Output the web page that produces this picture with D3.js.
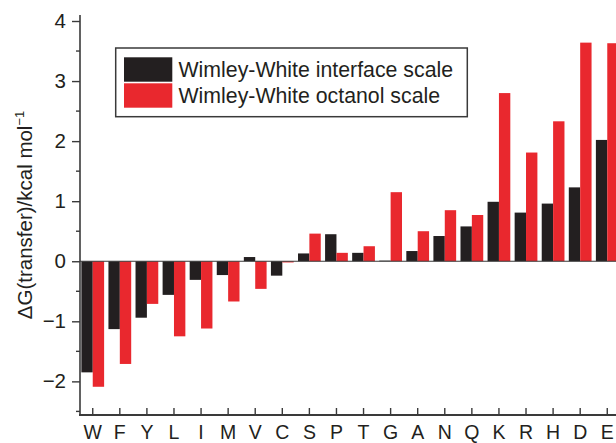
<!DOCTYPE html>
<html>
<head>
<meta charset="utf-8">
<script src="https://cdn.jsdelivr.net/npm/d3@7"></script>
<style>
  html, body { margin: 0; padding: 0; background: #fff; }
  svg { display: block; font-family: "Liberation Sans", Arial, Helvetica, sans-serif; }
</style>
</head>
<body>
<svg id="chart" width="616" height="443"></svg>
<script>
// Amino acids, ordered from most to least favourable transfer
const residues = ["W","F","Y","L","I","M","V","C","S","P","T","G","A","N","Q","K","R","H","D","E"];
// Free energy of transfer (kcal/mol), interface scale
const interfaceScale = [-1.85,-1.13,-0.94,-0.56,-0.31,-0.23,0.07,-0.24,0.13,0.45,0.14,0.01,0.17,0.42,0.58,0.99,0.81,0.96,1.23,2.02];
// Free energy of transfer (kcal/mol), octanol scale
const octanolScale = [-2.09,-1.71,-0.71,-1.25,-1.12,-0.67,-0.46,-0.02,0.46,0.14,0.25,1.15,0.50,0.85,0.77,2.80,1.81,2.33,3.64,3.63];
const seriesNames = ["Wimley-White interface scale", "Wimley-White octanol scale"];
const yMajorTicks = [-2,-1,0,1,2,3,4];
const yMinorTicks = [-2.5,-1.5,-0.5,0.5,1.5,2.5,3.5];

const colors = ["#231f20", "#e9282e"];
const svg = d3.select("#chart");

const x = d3.scaleBand().domain(residues).range([79.2, 620.8]).padding(0);
const y = d3.scaleLinear().domain([-2.56, 4.1]).range([415, 15]);
const barW = x.bandwidth() * 0.42;
const cx = d => x(d) + x.bandwidth() / 2;

const axisColor = "#3a3a3a";

// bars
const series = [interfaceScale, octanolScale];
series.forEach((vals, s) => {
  svg.append("g").selectAll("rect")
    .data(residues.map((r, i) => ({ r, v: vals[i] })))
    .join("rect")
    .attr("x", d => s === 0 ? cx(d.r) - barW : cx(d.r))
    .attr("width", barW)
    .attr("y", d => y(Math.max(0, d.v)))
    .attr("height", d => Math.abs(y(d.v) - y(0)))
    .attr("fill", colors[s]);
});

// zero line
svg.append("line")
  .attr("x1", 80).attr("x2", 616)
  .attr("y1", y(0)).attr("y2", y(0))
  .attr("stroke", axisColor).attr("stroke-width", 1.2);

// y axis
const yAxis = svg.append("g").attr("transform", "translate(80,0)")
  .call(d3.axisLeft(y).tickValues(yMajorTicks).tickSize(8).tickPadding(6).tickFormat(d3.format("d")));
yAxis.select(".domain").remove();
yAxis.selectAll(".tick line").attr("stroke", axisColor).attr("stroke-width", 1.4);
yAxis.selectAll(".tick text").attr("font-size", 20.5).attr("fill", "#231f20")
  .attr("font-family", "Liberation Sans, Arial, sans-serif");
svg.append("g").selectAll("line").data(yMinorTicks).join("line")
  .attr("x1", 76).attr("x2", 80)
  .attr("y1", d => y(d)).attr("y2", d => y(d))
  .attr("stroke", axisColor).attr("stroke-width", 1.4);
svg.append("line").attr("x1", 80).attr("x2", 80).attr("y1", 15).attr("y2", 415)
  .attr("stroke", axisColor).attr("stroke-width", 1.6);

// x axis (ticks point into the plot)
const xAxis = svg.append("g").attr("transform", "translate(0,415)")
  .call(d3.axisBottom(x).tickSizeInner(-7).tickSizeOuter(0).tickPadding(10));
xAxis.select(".domain").remove();
xAxis.selectAll(".tick line").attr("stroke", axisColor).attr("stroke-width", 1.4);
xAxis.selectAll(".tick text").attr("font-size", 19.5).attr("fill", "#231f20")
  .attr("font-family", "Liberation Sans, Arial, sans-serif");
svg.append("line").attr("x1", 79).attr("x2", 616).attr("y1", 415).attr("y2", 415)
  .attr("stroke", axisColor).attr("stroke-width", 1.8);

// y axis title
const yTitle = svg.append("text")
  .attr("transform", "translate(32,215) rotate(-90)")
  .attr("text-anchor", "middle")
  .attr("font-size", 20.5)
  .attr("fill", "#231f20");
yTitle.append("tspan").text("ΔG(transfer)/kcal mol");
yTitle.append("tspan").attr("font-size", 13).attr("dy", -8).text("−1");

// legend
const legend = svg.append("g");
legend.append("rect")
  .attr("x", 115.7).attr("y", 48).attr("width", 351.6).attr("height", 68.7)
  .attr("fill", "#fff").attr("stroke", "#3a3a3a").attr("stroke-width", 1.5);
seriesNames.forEach((name, i) => {
  legend.append("rect")
    .attr("x", 124).attr("y", 57.3 + i * 26).attr("width", 48.3).attr("height", 24.4)
    .attr("fill", colors[i]);
  legend.append("text")
    .attr("x", 178.5).attr("y", 76.5 + i * 26)
    .attr("font-size", 21.3).attr("fill", "#231f20")
    .text(name);
});
</script>
</body>
</html>
